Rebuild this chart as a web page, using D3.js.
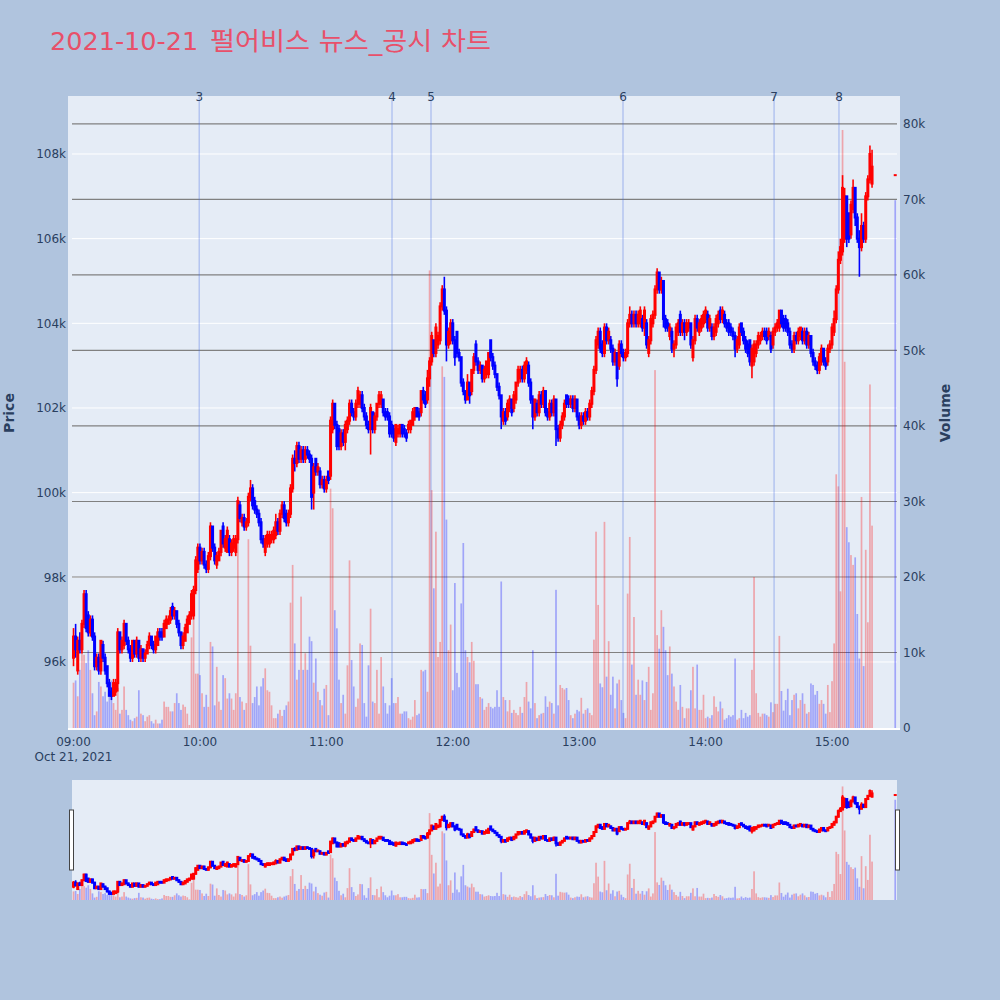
<!DOCTYPE html>
<html><head><meta charset="utf-8">
<script src="https://cdn.jsdelivr.net/npm/d3@7"></script>
<style>body{margin:0;background:#b0c4de}svg{display:block}</style>
</head><body><svg id="c" width="1000" height="1000"></svg>
<script>
// ---------- DATA ----------
// one candle per minute from sessionStart (380 candles) + the 15:30 closing auction
const sessionStart = "2021-10-21T09:00:00";
const closingAuction = "2021-10-21T15:30:00";
// prices in units of 100 KRW (e.g. 961 = 96,100)
const openP = [
961,966,958,965,963,969,976,971,967,970, 966,959,961,958,964,961,959,955,953,952,
953,955,967,963,964,969,965,963,961,965, 962,965,961,963,961,962,964,966,964,963,
964,967,967,966,968,969,970,973,971,972, 969,967,964,965,967,969,971,971,977,982,
987,984,986,983,982,985,992,987,983,984, 986,992,987,986,989,986,987,986,989,997,
993,994,992,993,999,1001,998,996,995,993, 989,986,988,988,989,989,990,993,991,995,
997,995,993,995,1001,1008,1007,1011,1008,1010, 1008,1010,1009,1008,1000,1008,1005,1005,1002,1003,
1001,1005,1004,1015,1021,1016,1015,1011,1014,1012, 1015,1017,1021,1019,1018,1021,1021,1023,1020,1018,
1016,1015,1019,1015,1018,1021,1021,1022,1019,1019, 1018,1016,1015,1012,1014,1014,1016,1015,1014,1015,
1015,1016,1018,1020,1019,1019,1024,1023,1022,1027, 1031,1036,1033,1035,1036,1044,1048,1043,1035,1036,
1040,1036,1038,1033,1032,1026,1024,1022,1026,1024, 1029,1035,1031,1029,1030,1027,1028,1028,1036,1032,
1030,1028,1025,1023,1017,1019,1018,1020,1022,1020, 1022,1026,1027,1029,1027,1029,1030,1026,1022,1018,
1021,1019,1023,1021,1024,1019,1018,1021,1019,1022, 1015,1013,1016,1018,1023,1022,1021,1022,1020,1022,
1018,1016,1018,1017,1019,1018,1021,1024,1029,1035, 1038,1035,1033,1039,1036,1036,1034,1031,1033,1030,
1035,1033,1032,1033,1040,1042,1040,1042,1040,1040, 1041,1039,1040,1033,1036,1040,1042,1048,1052,1048,
1050,1041,1040,1037,1038,1034,1035,1038,1042,1038, 1040,1038,1039,1040,1032,1036,1041,1038,1039,1040,
1041,1042,1039,1039,1037,1038,1040,1043,1041,1042, 1040,1040,1039,1038,1037,1034,1035,1040,1038,1036,
1035,1036,1030,1031,1033,1035,1036,1037,1038,1038, 1037,1037,1035,1038,1039,1039,1043,1041,1041,1040,
1038,1035,1034,1037,1036,1037,1038,1036,1038,1035, 1037,1033,1031,1030,1029,1031,1034,1031,1031,1034,
1035,1038,1041,1048,1055,1057,1060,1070,1066,1061, 1067,1072,1065,1060,1058,1063,1060,1070,1074,1073,
1075];
const highP = [
968,969,966,967,970,977,977,972,971,971, 967,962,962,965,965,962,959,956,954,956,
956,968,967,966,970,969,966,964,965,965, 966,965,964,963,963,965,967,966,965,966,
968,968,968,970,971,971,973,974,973,972, 970,967,967,969,971,972,977,978,985,988,
988,987,987,984,986,993,992,988,986,987, 991,993,990,992,990,989,990,990,999,998,
995,995,994,1000,1003,1002,999,997,996,994, 990,990,991,991,991,992,995,994,996,998,
998,996,996,1002,1009,1010,1012,1012,1011,1011, 1011,1011,1010,1009,1007,1008,1007,1006,1004,1004,
1004,1005,1018,1022,1021,1017,1016,1015,1015,1017, 1018,1022,1022,1020,1022,1025,1024,1024,1021,1019,
1017,1021,1019,1019,1021,1024,1024,1022,1020,1020, 1019,1017,1016,1016,1016,1016,1016,1016,1015,1017,
1017,1020,1020,1020,1020,1024,1025,1024,1029,1032, 1038,1036,1040,1038,1045,1049,1051,1044,1039,1041,
1041,1037,1038,1034,1032,1027,1024,1028,1026,1029, 1033,1036,1032,1031,1030,1030,1031,1033,1036,1033,
1031,1028,1026,1023,1020,1020,1022,1023,1022,1024, 1026,1030,1030,1030,1031,1032,1031,1027,1023,1022,
1022,1024,1024,1025,1024,1020,1022,1022,1023,1022, 1016,1017,1019,1022,1023,1023,1023,1023,1023,1022,
1019,1019,1019,1020,1020,1022,1025,1030,1037,1039, 1039,1036,1040,1040,1039,1037,1035,1034,1033,1036,
1036,1034,1034,1041,1044,1043,1043,1043,1043,1044, 1042,1044,1041,1037,1042,1043,1049,1053,1052,1051,
1050,1042,1041,1040,1039,1036,1040,1041,1043,1041, 1041,1041,1041,1040,1037,1042,1042,1041,1042,1043,
1044,1043,1042,1040,1040,1042,1043,1044,1044,1043, 1041,1041,1040,1039,1038,1037,1040,1040,1039,1037,
1036,1036,1035,1036,1036,1038,1038,1039,1039,1039, 1039,1038,1039,1040,1041,1043,1043,1042,1042,1041,
1039,1036,1038,1038,1039,1039,1039,1039,1039,1038, 1037,1034,1032,1031,1033,1035,1034,1032,1035,1036,
1040,1043,1049,1057,1060,1075,1072,1070,1066,1069, 1074,1072,1066,1062,1066,1064,1071,1075,1082,1081,
1075];
const lowP = [
959,961,957,962,962,968,967,966,966,965, 958,958,957,957,960,957,954,952,951,952,
952,953,962,962,963,964,962,960,960,961, 961,960,960,960,960,962,963,963,962,962,
964,965,965,966,968,969,969,970,970,968, 966,963,963,965,967,969,970,970,976,981,
983,983,982,981,981,984,986,983,982,984, 985,987,986,986,985,985,986,985,988,993,
992,991,991,992,998,996,995,994,992,988, 987,985,987,987,988,988,989,990,990,994,
993,992,992,994,1000,1005,1006,1007,1007,1007, 1007,1008,1007,996,996,1004,1004,1001,1001,1000,
1000,1002,1003,1014,1015,1010,1010,1010,1011,1010, 1014,1016,1018,1017,1017,1020,1020,1019,1017,1015,
1014,1009,1014,1014,1017,1020,1020,1018,1017,1017, 1013,1013,1012,1011,1013,1013,1013,1013,1012,1014,
1014,1016,1017,1018,1017,1018,1021,1020,1021,1025, 1030,1032,1032,1034,1035,1043,1042,1031,1034,1035,
1035,1030,1032,1031,1025,1023,1021,1022,1021,1023, 1028,1030,1028,1028,1026,1026,1027,1027,1031,1029,
1027,1024,1022,1015,1016,1016,1017,1019,1018,1019, 1021,1025,1026,1026,1026,1028,1025,1021,1015,1017,
1018,1018,1020,1020,1018,1017,1017,1018,1018,1011, 1012,1012,1015,1017,1020,1020,1020,1019,1019,1017,
1015,1015,1016,1016,1017,1017,1020,1023,1028,1034, 1033,1032,1032,1035,1035,1033,1030,1030,1025,1029,
1032,1031,1031,1032,1039,1039,1039,1039,1039,1039, 1038,1037,1034,1032,1035,1039,1041,1047,1047,1047,
1039,1038,1038,1036,1033,1032,1034,1037,1037,1037, 1036,1037,1038,1034,1031,1035,1038,1037,1038,1039,
1040,1038,1038,1036,1036,1037,1039,1040,1040,1039, 1038,1037,1037,1036,1032,1033,1034,1037,1035,1033,
1032,1030,1027,1030,1032,1034,1035,1036,1036,1035, 1036,1033,1034,1037,1038,1038,1039,1038,1038,1037,
1034,1033,1033,1035,1035,1036,1035,1035,1034,1034, 1032,1030,1029,1028,1028,1030,1030,1029,1030,1033,
1034,1037,1040,1047,1054,1056,1059,1058,1059,1060, 1066,1063,1059,1051,1057,1059,1059,1069,1073,1072,
1075];
const closeP = [
966,963,965,963,969,976,968,967,970,966, 959,961,958,965,961,958,955,952,952,955,
955,967,963,965,969,965,963,961,965,962, 965,961,963,961,962,964,966,964,963,966,
967,966,966,969,970,970,972,971,972,969, 967,964,966,968,970,971,976,977,984,987,
984,986,983,982,985,992,987,984,985,986, 991,988,989,991,986,988,989,989,998,994,
994,992,993,999,1001,997,996,995,993,989, 988,989,990,990,990,991,993,991,995,997,
994,993,995,1001,1008,1007,1011,1008,1010,1008, 1010,1009,1008,999,1006,1005,1006,1002,1003,1001,
1003,1003,1017,1021,1016,1011,1011,1014,1012,1016, 1017,1021,1019,1018,1021,1024,1023,1020,1018,1016,
1015,1020,1015,1018,1021,1023,1023,1019,1018,1018, 1014,1014,1013,1016,1015,1016,1014,1014,1013,1016,
1017,1019,1020,1018,1018,1024,1022,1021,1027,1031, 1037,1033,1039,1037,1044,1048,1043,1035,1038,1040,
1036,1032,1033,1032,1026,1024,1022,1026,1023,1029, 1032,1031,1029,1030,1027,1029,1031,1033,1032,1030,
1028,1025,1023,1018,1019,1017,1021,1022,1019,1023, 1026,1029,1029,1027,1030,1031,1026,1022,1018,1022,
1019,1023,1021,1024,1019,1018,1021,1019,1022,1015, 1013,1016,1018,1021,1021,1021,1022,1020,1022,1018,
1016,1018,1017,1019,1018,1021,1024,1029,1036,1038, 1034,1033,1039,1036,1038,1034,1031,1033,1027,1035,
1033,1032,1033,1040,1042,1040,1042,1040,1042,1043, 1039,1043,1035,1036,1041,1042,1048,1052,1048,1050,
1041,1039,1039,1039,1034,1035,1039,1040,1038,1040, 1038,1040,1040,1035,1036,1041,1039,1040,1041,1042,
1043,1039,1041,1037,1039,1041,1042,1041,1043,1040, 1039,1038,1038,1037,1034,1036,1039,1038,1036,1034,
1033,1031,1034,1035,1035,1037,1037,1038,1037,1036, 1038,1034,1038,1039,1040,1043,1040,1039,1039,1038,
1035,1034,1037,1036,1038,1039,1036,1038,1035,1037, 1033,1031,1030,1029,1032,1034,1031,1030,1034,1035,
1039,1041,1048,1055,1058,1072,1070,1060,1060,1068, 1072,1065,1060,1058,1063,1060,1070,1074,1080,1077,
1075];
// volume in thousand shares
const volumeK = [
6.0,6.3,4.2,7.7,10.6,9.7,8.6,10.3,7.7,4.6, 1.7,2.2,6.1,5.5,4.2,4.8,3.5,5.0,6.3,3.3,
2.4,5.3,1.9,2.4,5.5,2.4,1.7,1.1,0.9,1.3, 1.5,5.0,1.9,1.7,0.9,1.5,1.7,0.9,0.6,1.1,
0.6,0.6,1.1,3.5,2.8,2.8,2.2,2.2,3.3,4.6, 3.3,2.4,3.1,2.8,1.9,0.4,12.0,14.3,7.2,7.2,
7.0,4.6,2.8,4.4,2.8,11.4,10.8,3.0,8.1,3.5, 2.4,7.0,6.6,3.9,4.6,3.9,2.4,4.6,28.0,4.1,
3.5,2.4,3.3,25.0,10.9,3.3,4.1,5.5,3.0,5.5, 6.6,7.9,5.0,4.8,3.0,1.3,1.3,1.9,2.4,1.6,
2.4,3.0,3.5,16.6,21.6,11.2,6.4,7.7,17.4,7.7, 9.9,7.7,12.1,11.5,6.0,9.2,4.8,3.7,3.0,5.2,
5.7,1.7,31.7,29.1,15.6,13.2,6.4,3.3,4.4,1.9, 8.3,22.2,9.0,5.5,2.8,3.9,11.2,11.0,3.3,1.5,
8.3,15.8,3.5,3.3,7.7,1.9,9.4,5.5,3.3,1.9, 3.0,6.6,3.3,3.3,4.1,1.9,1.9,2.2,2.2,1.3,
1.1,1.5,3.7,1.7,1.9,7.7,7.5,7.7,4.8,60.6, 31.5,18.5,26.0,9.4,11.4,47.9,46.5,27.6,10.3,13.7,
5.0,19.2,7.3,5.4,16.5,24.5,10.3,9.4,8.7,11.4, 8.9,5.8,5.8,4.1,3.9,2.4,2.8,3.3,2.8,2.6,
2.8,5.0,2.8,19.4,4.1,3.7,2.2,3.7,2.0,2.4, 2.0,1.7,2.8,2.0,4.1,6.1,3.5,2.6,10.3,3.3,
1.3,1.7,1.9,2.0,4.2,2.8,3.5,3.3,1.9,18.3, 3.0,5.7,5.3,5.1,5.3,3.7,1.7,1.3,1.9,2.4,
2.2,4.0,1.9,2.4,2.6,2.0,1.7,11.7,26.0,16.3, 5.9,5.4,27.3,6.8,11.5,4.4,6.8,2.6,5.9,6.4,
3.7,2.0,1.3,17.8,25.3,8.4,14.7,4.4,6.4,4.4, 6.3,3.7,6.1,8.1,2.4,4.6,47.4,12.3,10.5,15.6,
13.4,10.3,7.0,10.8,7.2,5.5,3.5,2.4,5.7,2.8, 1.3,2.6,2.6,5.0,8.1,2.6,8.4,2.4,2.4,4.4,
1.3,1.5,1.3,1.7,4.2,2.8,2.2,3.5,2.6,1.1, 1.3,1.7,1.5,1.7,9.2,1.1,1.3,2.4,1.3,2.0,
1.5,1.7,7.7,20.0,4.6,2.0,1.5,1.9,1.9,1.7, 1.5,3.4,2.1,3.2,3.2,12.2,4.9,2.3,3.7,5.2,
1.7,3.7,4.4,4.6,2.6,3.7,4.6,3.2,1.9,2.1, 5.9,5.7,4.4,4.9,3.2,3.7,3.2,1.9,5.7,2.1,
6.2,11.2,33.6,32.0,18.1,79.2,48.5,26.6,24.6,22.9, 21.6,22.6,15.1,9.2,30.6,8.2,23.6,14.0,45.5,26.8,
69.9];
const newsLabels = ["3","4","5","6","7","8"];
const newsTimes = ["09:59:40","11:31:10","11:49:40","13:20:48","14:32:30","15:03:18"];
const priceTicks = [960,980,1000,1020,1040,1060,1080];
const volumeTicks = [0,10,20,30,40,50,60,70,80];
const hourTicks = ["09:00","10:00","11:00","12:00","13:00","14:00","15:00"];
const titleDate = "2021-10-21";
const titleRest = "펄어비스 뉴스_공시 차트";

// ---------- BUILD ----------
const day = "2021-10-21T";
const start = new Date(sessionStart);
const rows = openP.map((o, i) => ({
  t: i < openP.length - 1 ? d3.timeMinute.offset(start, i) : new Date(closingAuction),
  o, h: highP[i], l: lowP[i], c: closeP[i], v: volumeK[i]
}));

const FONT = "'DejaVu Sans', Verdana, sans-serif";
const TXT = "#2a3f5f";
const UP = "#ff0000", DOWN = "#0000ff";
const svg = d3.select("#c");
svg.append("rect").attr("width", 1000).attr("height", 1000).attr("fill", "#b0c4de");

const L = 68, R = 900, T = 96, B = 728;
const x = d3.scaleTime()
  .domain([new Date(day + "08:57:23"), new Date(day + "15:32:16")])
  .range([L, R]);
const y = d3.scaleLinear().domain([944.4, 1093.7]).range([B, T]);
const yv = d3.scaleLinear().domain([0, 83.7]).range([B, T]);

svg.append("defs").append("clipPath").attr("id", "mainclip")
  .append("rect").attr("x", L).attr("y", T).attr("width", R - L).attr("height", B - T);

svg.append("rect").attr("x", L).attr("y", T).attr("width", R - L).attr("height", B - T).attr("fill", "#e5ecf6");

// grid: price (white) and volume (gray)
const grid = svg.append("g");
grid.selectAll(".gp").data(priceTicks).join("line")
  .attr("x1", 72).attr("x2", 897).attr("y1", d => y(d)).attr("y2", d => y(d))
  .attr("stroke", "#ffffff").attr("stroke-width", 1);
grid.selectAll(".gv").data(volumeTicks.filter(d => d > 0)).join("line")
  .attr("x1", 72).attr("x2", 897).attr("y1", d => yv(d)).attr("y2", d => yv(d))
  .attr("stroke", "#808080").attr("stroke-width", 1.2);
grid.append("line").attr("x1", L).attr("x2", R).attr("y1", yv(0) + 1).attr("y2", yv(0) + 1)
  .attr("stroke", "#ffffff").attr("stroke-width", 2);

const main = svg.append("g").attr("clip-path", "url(#mainclip)");
const isUp = d => d.c >= d.o;
const volUp = d => d.c > d.o;

// volume bars
main.append("g").selectAll("rect").data(rows).join("rect")
  .attr("x", d => x(d.t) - 0.85).attr("width", 1.7)
  .attr("y", d => yv(d.v)).attr("height", d => yv(0) - yv(d.v))
  .attr("fill", d => volUp(d) ? UP : DOWN).attr("fill-opacity", 0.3);

// news lines
const newsRows = newsLabels.map((n, i) => ({ n, t: new Date(day + newsTimes[i]) }));
main.append("g").selectAll("line").data(newsRows).join("line")
  .attr("x1", d => x(d.t)).attr("x2", d => x(d.t)).attr("y1", T).attr("y2", B)
  .attr("stroke", "rgb(65,105,225)").attr("stroke-opacity", 0.35).attr("stroke-width", 1.3);
svg.append("g").selectAll("text").data(newsRows).join("text")
  .attr("x", d => x(d.t)).attr("y", 101).attr("text-anchor", "middle")
  .attr("font-family", FONT).attr("font-size", 12).attr("fill", TXT).text(d => d.n);

// candles
function drawCandles(g, ys, bw, ww) {
  g.append("g").selectAll("line").data(rows).join("line")
    .attr("x1", d => x(d.t)).attr("x2", d => x(d.t))
    .attr("y1", d => ys(d.h)).attr("y2", d => ys(d.l))
    .attr("stroke", d => isUp(d) ? UP : DOWN).attr("stroke-width", ww);
  g.append("g").selectAll("rect").data(rows).join("rect")
    .attr("x", d => x(d.t) - bw / 2).attr("width", bw)
    .attr("y", d => ys(Math.max(d.o, d.c)) - 1)
    .attr("height", d => Math.abs(ys(d.o) - ys(d.c)) + 2)
    .attr("fill", d => isUp(d) ? UP : DOWN);
}
drawCandles(main, y, 3, 1.6);

// axes labels
const lab = svg.append("g").attr("font-family", FONT).attr("font-size", 12).attr("fill", TXT);
lab.selectAll(".ty").data(priceTicks).join("text")
  .attr("x", 66).attr("y", d => y(d)).attr("dy", "0.35em").attr("text-anchor", "end")
  .text(d => d / 10 + "k");
lab.selectAll(".tv").data(volumeTicks).join("text")
  .attr("x", 903).attr("y", d => yv(d)).attr("dy", "0.35em").attr("text-anchor", "start")
  .text(d => d === 0 ? "0" : d + "k");
lab.selectAll(".tx").data(hourTicks).join("text")
  .attr("x", d => x(new Date(day + d + ":00"))).attr("y", 746).attr("text-anchor", "middle")
  .text(d => d);
lab.append("text").attr("x", x(new Date(day + "09:00:00"))).attr("y", 761)
  .attr("text-anchor", "middle").text("Oct 21, 2021");

svg.append("text").attr("transform", "translate(14,413) rotate(-90)")
  .attr("text-anchor", "middle").attr("font-family", FONT).attr("font-size", 14)
  .attr("font-weight", "bold").attr("fill", TXT).text("Price");
svg.append("text").attr("transform", "translate(950,413) rotate(-90)")
  .attr("text-anchor", "middle").attr("font-family", FONT).attr("font-size", 14)
  .attr("font-weight", "bold").attr("fill", TXT).text("Volume");

// title
const title = svg.append("text").attr("x", 50).attr("y", 50)
  .attr("font-family", "'DejaVu Sans', 'Noto Sans CJK KR', sans-serif").attr("font-size", 25.5)
  .attr("fill", "#e8506a");
title.append("tspan").text(titleDate + " ");
title.append("tspan").attr("x", 210).attr("textLength", 281).attr("lengthAdjust", "spacingAndGlyphs")
  .text(titleRest);

// ---------- RANGE SLIDER ----------
const ST = 780, SB = 900, SL = 72, SR = 897;
svg.append("defs").append("clipPath").attr("id", "sclip")
  .append("rect").attr("x", SL).attr("y", ST).attr("width", SR - SL).attr("height", SB - ST);
svg.append("rect").attr("x", SL).attr("y", ST).attr("width", SR - SL).attr("height", SB - ST).attr("fill", "#e5ecf6");
const ys2 = d3.scaleLinear().domain(y.domain()).range([SB, ST]);
const yv2 = d3.scaleLinear().domain(yv.domain()).range([SB, ST]);
const sg = svg.append("g").attr("clip-path", "url(#sclip)");
sg.append("g").selectAll("rect").data(rows).join("rect")
  .attr("x", d => x(d.t) - 0.85).attr("width", 1.7)
  .attr("y", d => yv2(d.v)).attr("height", d => yv2(0) - yv2(d.v))
  .attr("fill", d => volUp(d) ? UP : DOWN).attr("fill-opacity", 0.3);
drawCandles(sg, ys2, 3, 1.6);
[[69.5, 810], [895.5, 810]].forEach(([hx, hy]) => {
  svg.append("rect").attr("x", hx).attr("y", hy).attr("width", 4).attr("height", 60)
    .attr("fill", "#ffffff").attr("stroke", "#444").attr("stroke-width", 1);
});
</script></body></html>
